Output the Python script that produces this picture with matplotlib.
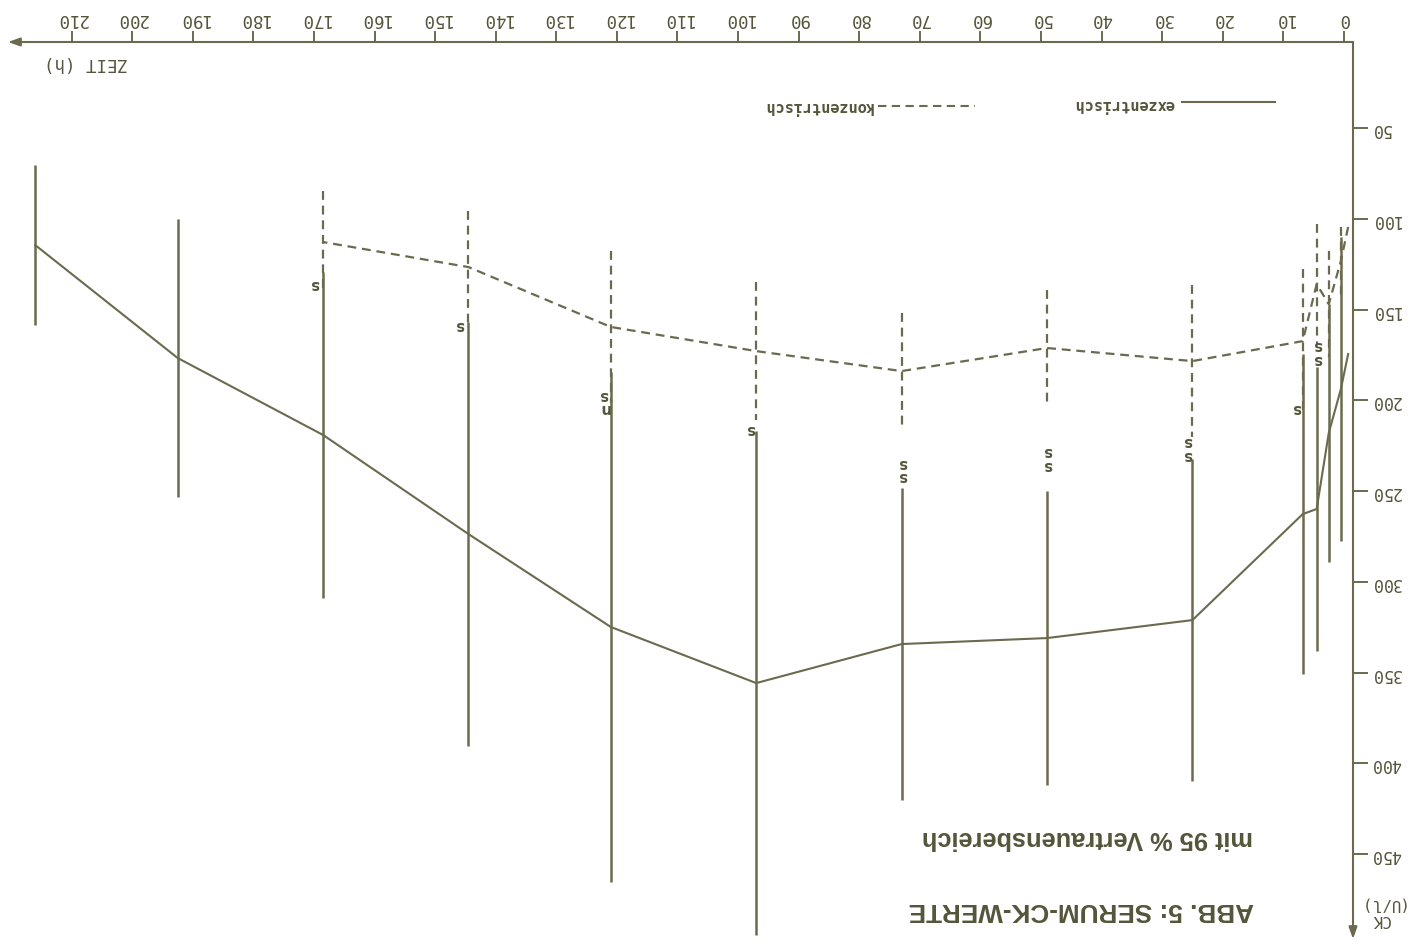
import matplotlib
matplotlib.use("Agg")
import matplotlib.pyplot as plt
from matplotlib.lines import Line2D
import numpy as np

# Zeitpunkte der Blutentnahme (h)
zeit = [-0.7, 0.5, 2.5, 4.5, 6.8, 25, 49, 73, 97, 121, 144.5, 168.5, 192.5, 216]

# Serum-CK (U/l), exzentrische Belastung: Mittelwert und halbe Breite des 95%-Bereichs
exz_ck = [174.5, 193.8, 218.0, 259.9, 262.7, 321.1, 331.0, 334.3, 355.8, 324.9, 273.7, 219.1, 176.7, 114.5]
exz_ci = [np.nan, 83.7, 71.1, 78.2, 88.2, 88.7, 81.0, 86.0, 138.8, 140.5, 116.8, 89.8, 76.6, 44.0]

# konzentrische Belastung (bis 168 h)
konz_ck = [104.5, 123.3, 147.0, 136.0, 167.4, 178.4, 171.2, 183.9, 172.9, 159.6, 126.6, 112.8]
konz_ci = [np.nan, 19.0, 29.0, 33.0, 39.7, 41.9, 32.0, 32.0, 38.0, 41.9, 30.9, 28.1]

# Signifikanzangaben
sig_text = ["s\ns", "s", "s\ns", "s\ns", "s\ns", "s", "n\ns", "s", "s"]
sig_zeit = [4.3, 7.8, 25.7, 48.9, 72.8, 97.9, 122.1, 145.9, 169.8]
sig_ck = [172.9, 203.7, 225.8, 231.3, 237.9, 215.3, 200.4, 158.5, 135.4]

x_ticks = list(range(0, 211, 10))
y_ticks = list(range(50, 451, 50))

INK = "#6b6a4f"
TXT = "#55553b"
DASH = (0, (4, 2.6))

W, H = 1411, 945
fig = plt.figure(figsize=(W / 100, H / 100), dpi=100)
fig.patch.set_facecolor("white")
ax = fig.add_axes([8 / W, (H - 940) / H, (1353 - 8) / W, (940 - 43) / H])
ax.set_xlim(220.5, -1.5)
ax.set_ylim(496.8, 2.6)
for s in ax.spines.values():
    s.set_visible(False)

zeit_a = np.array(zeit)
exz_ck_a = np.array(exz_ck)
exz_ci_a = np.array(exz_ci)
konz_z = zeit_a[:len(konz_ck)]
konz_ck_a = np.array(konz_ck)
konz_ci_a = np.array(konz_ci)

# Vertrauensbereiche und Verlaufskurven
m = ~np.isnan(konz_ci_a)
ax.vlines(konz_z[m], konz_ck_a[m] - konz_ci_a[m], konz_ck_a[m] + konz_ci_a[m],
          colors=INK, linewidth=1.6, linestyles=[DASH], zorder=2)
ax.plot(konz_z, konz_ck_a, color=INK, linewidth=1.6, linestyle=DASH, zorder=2)

m = ~np.isnan(exz_ci_a)
ax.vlines(zeit_a[m], exz_ck_a[m] - exz_ci_a[m], exz_ck_a[m] + exz_ci_a[m],
          colors=INK, linewidth=1.8, zorder=3)
ax.plot(zeit_a, exz_ck_a, color=INK, linewidth=1.5, zorder=3)

for t, z, c in zip(sig_text, sig_zeit, sig_ck):
    ax.text(z, c, t, rotation=180, ha="center", va="center", fontsize=10.5,
            fontweight="bold", family="DejaVu Sans", color=TXT, linespacing=0.9,
            zorder=4)

# Achsen mit Pfeilen
arrow = dict(arrowstyle="-|>,head_length=0.7,head_width=0.25", color=INK,
             linewidth=1.5, shrinkA=0, shrinkB=0)
ax.annotate("", xy=(0, 1), xytext=(1, 1), xycoords="axes fraction",
            arrowprops=arrow, annotation_clip=False)
ax.annotate("", xy=(1, 0), xytext=(1, 1), xycoords="axes fraction",
            arrowprops=arrow, annotation_clip=False)

ax.xaxis.tick_top()
ax.set_xticks(x_ticks)
ax.set_xticklabels([str(v) for v in x_ticks])
ax.tick_params(axis="x", direction="out", length=8, width=1.4, pad=3,
               labelsize=12.5, labelrotation=180, colors=INK, labelcolor=TXT)
ax.yaxis.tick_right()
ax.set_yticks(y_ticks)
ax.set_yticklabels([str(v) for v in y_ticks])
ax.tick_params(axis="y", direction="out", length=11, width=1.4, pad=2,
               labelsize=12, labelrotation=180, colors=INK, labelcolor=TXT)
for lbl in ax.get_xticklabels() + ax.get_yticklabels():
    lbl.set_family("DejaVu Sans Mono")
for lbl in ax.get_yticklabels():
    lbl.set_va("center")

# Achsenbeschriftungen
fig.text(86 / W, 1 - 63 / H, "ZEIT (h)", rotation=180, ha="center", va="center",
         fontsize=12.5, family="DejaVu Sans Mono", color=TXT)
fig.text(1380 / W, 1 - 912 / H, "CK\n(U/l)", rotation=180, ha="center", va="center",
         fontsize=11.5, family="DejaVu Sans Mono", color=TXT, linespacing=1.0)

# Legende (in Bildpunkten platziert)
def px_line(x0, x1, y, **kw):
    fig.add_artist(Line2D([x0 / W, x1 / W], [1 - y / H, 1 - y / H],
                          transform=fig.transFigure, color=INK, linewidth=1.5, **kw))

px_line(1182, 1275, 103)
px_line(878, 975, 107, linestyle=DASH)
fig.text(1124 / W, 1 - 105 / H, "exzentrisch", rotation=180, ha="center", va="center",
         fontsize=11, family="DejaVu Sans Mono", fontweight="bold", color=TXT)
fig.text(818 / W, 1 - 107 / H, "konzentrisch", rotation=180, ha="center", va="center",
         fontsize=11, family="DejaVu Sans Mono", fontweight="bold", color=TXT)

# Titel
fig.text(1081 / W, 1 - 910 / H, "ABB. 5: SERUM-CK-WERTE", rotation=180, ha="center",
         va="center", fontsize=18.8, fontweight="bold", family="Liberation Sans", color=TXT)
fig.text(1087 / W, 1 - 838 / H, "mit 95 % Vertrauensbereich", rotation=180, ha="center",
         va="center", fontsize=18.3, fontweight="bold", family="Liberation Sans", color=TXT)

fig.savefig("out.png", dpi=100, facecolor="white")
